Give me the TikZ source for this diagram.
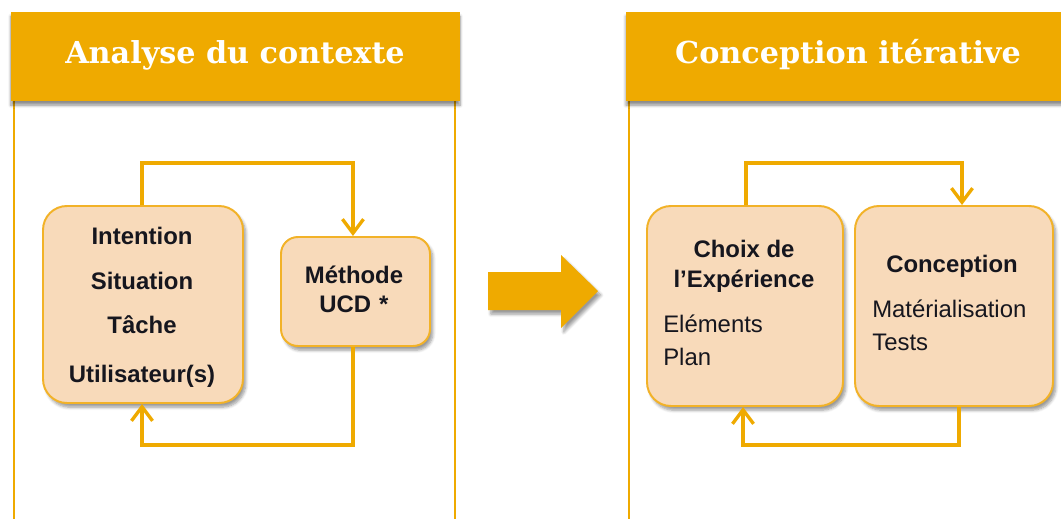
\documentclass[tikz,border=0pt]{standalone}
\usepackage{fontspec}
\setmainfont{Liberation Sans}
\newfontfamily\headfont{DejaVu Serif}
\usetikzlibrary{arrows.meta,shadows.blur}
\definecolor{gold}{RGB}{239,170,0}
\definecolor{peach}{RGB}{248,218,186}
\definecolor{boxline}{RGB}{242,178,40}
\definecolor{ink}{RGB}{22,22,30}
\tikzset{
  header/.style={draw=none,fill=gold,minimum height=89*0.025cm,inner sep=0pt,
    blur shadow={shadow xshift=0pt,shadow yshift=-3pt,shadow blur steps=6,shadow opacity=45}},
  headtxt/.style={text=white,font=\headfont\bfseries\fontsize{21.5}{24}\selectfont,inner sep=0pt,text height=0.729em,text depth=0pt},
  panelline/.style={draw=gold,line width=2pt},
  stepbox/.style={draw=boxline,line width=1.4pt,fill=peach,rounded corners=17pt,inner sep=0pt,
    blur shadow={shadow xshift=2pt,shadow yshift=-3pt,shadow blur steps=6,shadow opacity=40}},
  boldtxt/.style={text=ink,font=\bfseries\fontsize{17}{20}\selectfont,inner sep=0pt,text height=0.716em,text depth=0pt,yshift=-1.6pt},
  plaintxt/.style={text=ink,font=\fontsize{17}{20}\selectfont,inner sep=0pt,text height=0.716em,text depth=0pt,anchor=west,yshift=-1.6pt},
  conn/.style={draw=gold,line width=2.4pt},
  tip/.style={-{Straight Barb[length=10pt,width=15pt,line width=2.4pt]}},
}
\begin{document}
\begin{tikzpicture}[x=0.025cm,y=-0.025cm]
\useasboundingbox (0,0) rectangle (1061,519);
\clip (0,0) rectangle (1061,519);
% panel lines
\draw[panelline] (14,100) -- (14,530);
\draw[panelline] (455,100) -- (455,530);
\draw[panelline] (629,100) -- (629,530);
% headers
\node[header,minimum width=449*0.025cm] (h1) at (235.5,56.5) {};
\node[headtxt] (h1t) at (235,58) {Analyse du contexte};
\node[header,minimum width=444*0.025cm] (h2) at (848,56.5) {};
\node[headtxt] (h2t) at (848,58) {Conception itérative};
% big arrow
\fill[gold,blur shadow={shadow xshift=2pt,shadow yshift=-3pt,shadow blur steps=6,shadow opacity=40}]
  (488,272) -- (561,272) -- (561,255) -- (598,291) -- (561,328) -- (561,310) -- (488,310) -- cycle;
% left boxes
\node[stepbox,minimum width=200*0.025cm,minimum height=197*0.025cm] (big) at (143,304.5) {};
\node[stepbox,minimum width=149*0.025cm,minimum height=109*0.025cm,rounded corners=12pt] (met) at (355.5,291.5) {};
\node[boldtxt] (t1) at (142,237) {Intention};
\node[boldtxt] (t2) at (142,282) {Situation};
\node[boldtxt] (t3) at (142,326) {Tâche};
\node[boldtxt] (t4) at (142,375) {Utilisateur(s)};
\node[boldtxt] (m1) at (354,276) {Méthode};
\node[boldtxt] (m2) at (354,305) {UCD\,\,*};
% left connectors
\coordinate (lt) at (0,163);
\coordinate (lb) at (0,445);
\coordinate (bn) at ([xshift=-0.7pt]big.north);
\coordinate (bs) at ([xshift=-0.7pt]big.south);
\coordinate (mn) at ([xshift=-1.8pt]met.north);
\coordinate (ms) at ([xshift=-1.8pt]met.south);
\draw[conn,tip] (bn) -- (bn |- lt) -- (mn |- lt) -- (mn);
\draw[conn,tip] (ms) -- (ms |- lb) -- (bs |- lb) -- (bs);
% right boxes
\node[stepbox,minimum width=196*0.025cm,minimum height=200*0.025cm] (cho) at (745,306) {};
\node[stepbox,minimum width=198*0.025cm,minimum height=200*0.025cm] (con) at (954,306) {};
\node[boldtxt] (c1) at (744,250) {Choix de};
\node[boldtxt] (c2) at (744,280) {l’Expérience};
\node[plaintxt] (c3) at (663,325) {Eléments};
\node[plaintxt] (c4) at (663,358) {Plan};
\node[boldtxt] (d1) at (952,265) {Conception};
\node[plaintxt] (d2) at (872,310.5) {Matérialisation};
\node[plaintxt] (d3) at (872,343) {Tests};
% right connectors
\coordinate (rt) at (0,163);
\coordinate (rb) at (0,445);
\coordinate (cn) at ([xshift=0.7pt]cho.north);
\coordinate (cs) at ([xshift=-1.4pt]cho.south);
\coordinate (dn) at ([xshift=5.7pt]con.north);
\coordinate (ds) at ([xshift=3.5pt]con.south);
\draw[conn,tip] (cn) -- (cn |- rt) -- (dn |- rt) -- (dn);
\draw[conn,tip] (ds) -- (ds |- rb) -- (cs |- rb) -- (cs);
\end{tikzpicture}
\end{document}
